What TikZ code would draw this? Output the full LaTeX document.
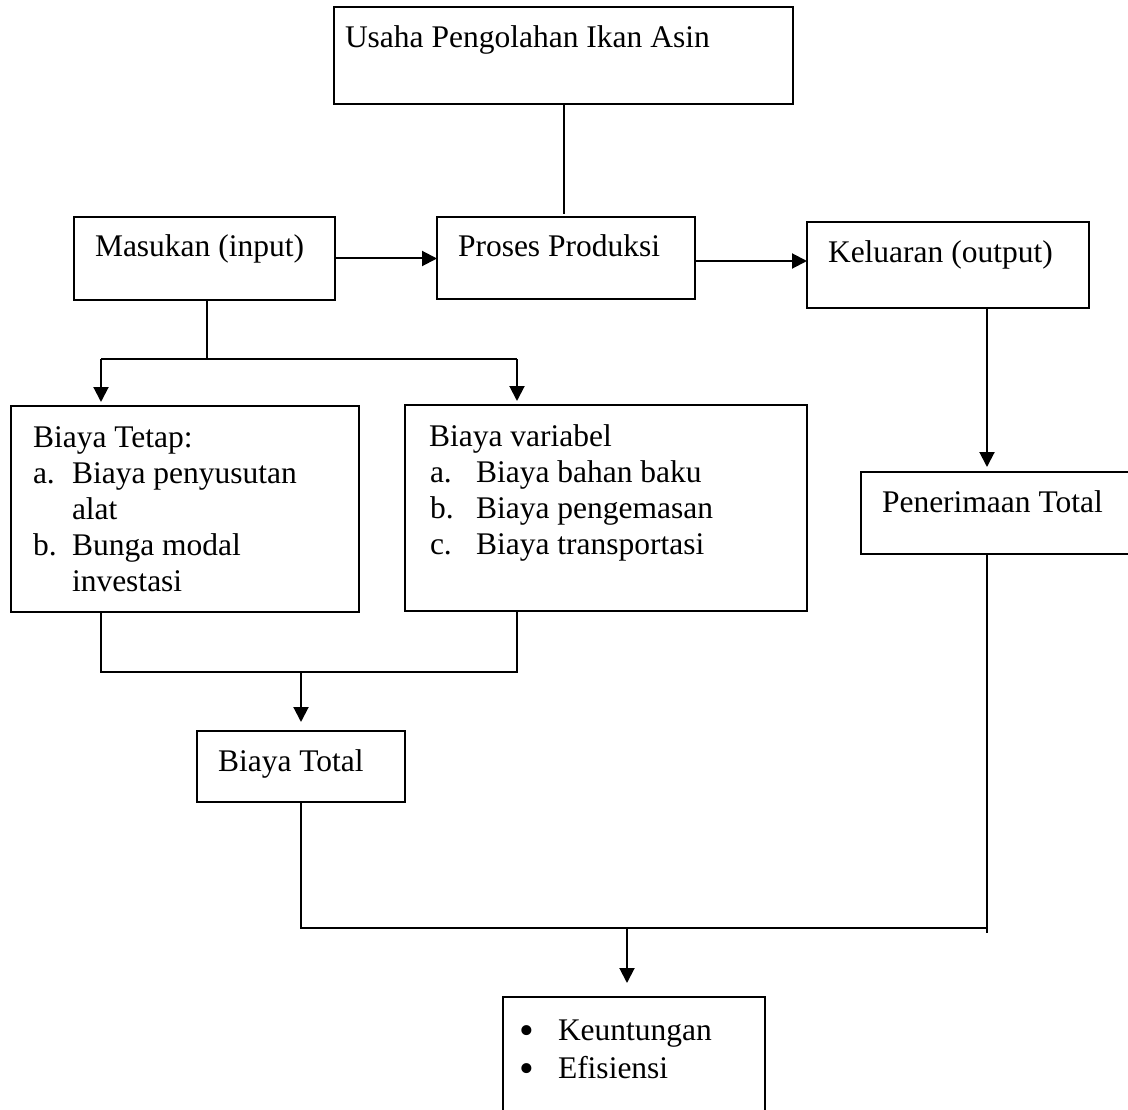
\documentclass[tikz,border=0pt]{standalone}
\usepackage{fontspec}
\setmainfont{Liberation Serif}
\usetikzlibrary{arrows.meta}
\begin{document}
\begin{tikzpicture}[x=1pt,y=-1pt,
  box/.style={draw,line width=2.1pt,inner sep=0pt,outer sep=0pt,minimum width=#1},
  txt/.style={anchor=base west,inner sep=0pt,outer sep=0pt,font=\fontsize{31.5}{36}\selectfont},
  bul/.style={anchor=base west,inner sep=0pt,outer sep=0pt,font=\fontsize{42}{42}\selectfont},
  conn/.style={line width=2pt},
  arr/.style={line width=2pt,-{Triangle[length=15pt,width=15pt]}}]
\useasboundingbox (0,0) rectangle (1128,1110);
\fill[white] (0,0) rectangle (1128,1110);
% boxes
\node[box=459pt,minimum height=97pt] (top) at (563.5,55.5) {};
\node[box=261pt,minimum height=83pt] (masukan) at (204.5,258.5) {};
\node[box=258pt,minimum height=82pt] (proses) at (566,258) {};
\node[box=282pt,minimum height=86pt] (keluaran) at (948,265) {};
\node[box=348pt,minimum height=206pt] (tetap) at (185,509) {};
\node[box=402pt,minimum height=206pt] (variabel) at (606,508) {};
\node[box=279pt,minimum height=82pt] (penerimaan) at (1000.5,513) {};
\node[box=208pt,minimum height=71pt] (total) at (301,766.5) {};
\node[box=262pt,minimum height=128pt] (hasil) at (634,1061) {};
% texts
\node[txt] (t-top) at (345,48) {Usaha Pengolahan Ikan Asin};
\node[txt] (t-masukan) at (95,257) {Masukan (input)};
\node[txt] (t-proses) at (458,257) {Proses Produksi};
\node[txt] (t-keluaran) at (828,263) {Keluaran (output)};
\node[txt] (t-tetap0) at (33,447) {Biaya Tetap:};
\node[txt] (t-tetapa) at (33,483) {a.};
\node[txt] (t-tetapa1) at (72,483) {Biaya penyusutan};
\node[txt] (t-tetapa2) at (72,519) {alat};
\node[txt] (t-tetapb) at (33,555) {b.};
\node[txt] (t-tetapb1) at (72,555) {Bunga modal};
\node[txt] (t-tetapb2) at (72,591) {investasi};
\node[txt] (t-var0) at (429,446) {Biaya variabel};
\node[txt] (t-vara) at (430,482) {a.};
\node[txt] (t-vara1) at (476,482) {Biaya bahan baku};
\node[txt] (t-varb) at (430,518) {b.};
\node[txt] (t-varb1) at (476,518) {Biaya pengemasan};
\node[txt] (t-varc) at (430,554) {c.};
\node[txt] (t-varc1) at (476,554) {Biaya transportasi};
\node[txt] (t-pen) at (882,512) {Penerimaan Total};
\node[txt] (t-total) at (218,771) {Biaya Total};
\node[bul] (t-b1) at (519,1044) {\textbullet};
\node[txt] (t-keu) at (558,1040) {Keuntungan};
\node[bul] (t-b2) at (519,1082) {\textbullet};
\node[txt] (t-efi) at (558,1078) {Efisiensi};
% junction coordinates
\coordinate (jm) at (207,359);
\coordinate (jl) at (101,359);
\coordinate (jr) at (517,359);
\coordinate (bl) at (101,672);
\coordinate (br) at (517,672);
\coordinate (cR) at (987,928);
\coordinate (cL) at (301,928);
\coordinate (cM) at (627,928);
% connectors
\draw[conn,shorten >=3pt] (top.south) -- (top.south |- proses.north);
\draw[arr] (masukan.east) -- (masukan.east -| proses.west);
\draw[arr] ([yshift=-3pt]proses.east) -- ([yshift=-3pt]proses.east -| keluaran.west);
\draw[conn] (masukan.south -| jm) -- (jm);
\draw[conn] (jl) -- (jr);
\draw[arr,shorten >=4pt] (jl) -- (jl |- tetap.north);
\draw[arr,shorten >=4pt] (jr) -- (jr |- variabel.north);
\draw[arr,shorten >=5pt] (keluaran.south -| cR) -- (penerimaan.north -| cR);
\draw[conn] (tetap.south -| bl) -- (bl) -- (br) -- (variabel.south -| br);
\draw[arr,shorten >=9pt] (total.north |- bl) -- (total.north);
\draw[conn] (total.south) -- (cL) -- (cR);
\draw[conn] (penerimaan.south -| cR) -- ([yshift=-5pt]cR);
\draw[arr,shorten >=14pt] (cM) -- (cM |- hasil.north);
\end{tikzpicture}
\end{document}
